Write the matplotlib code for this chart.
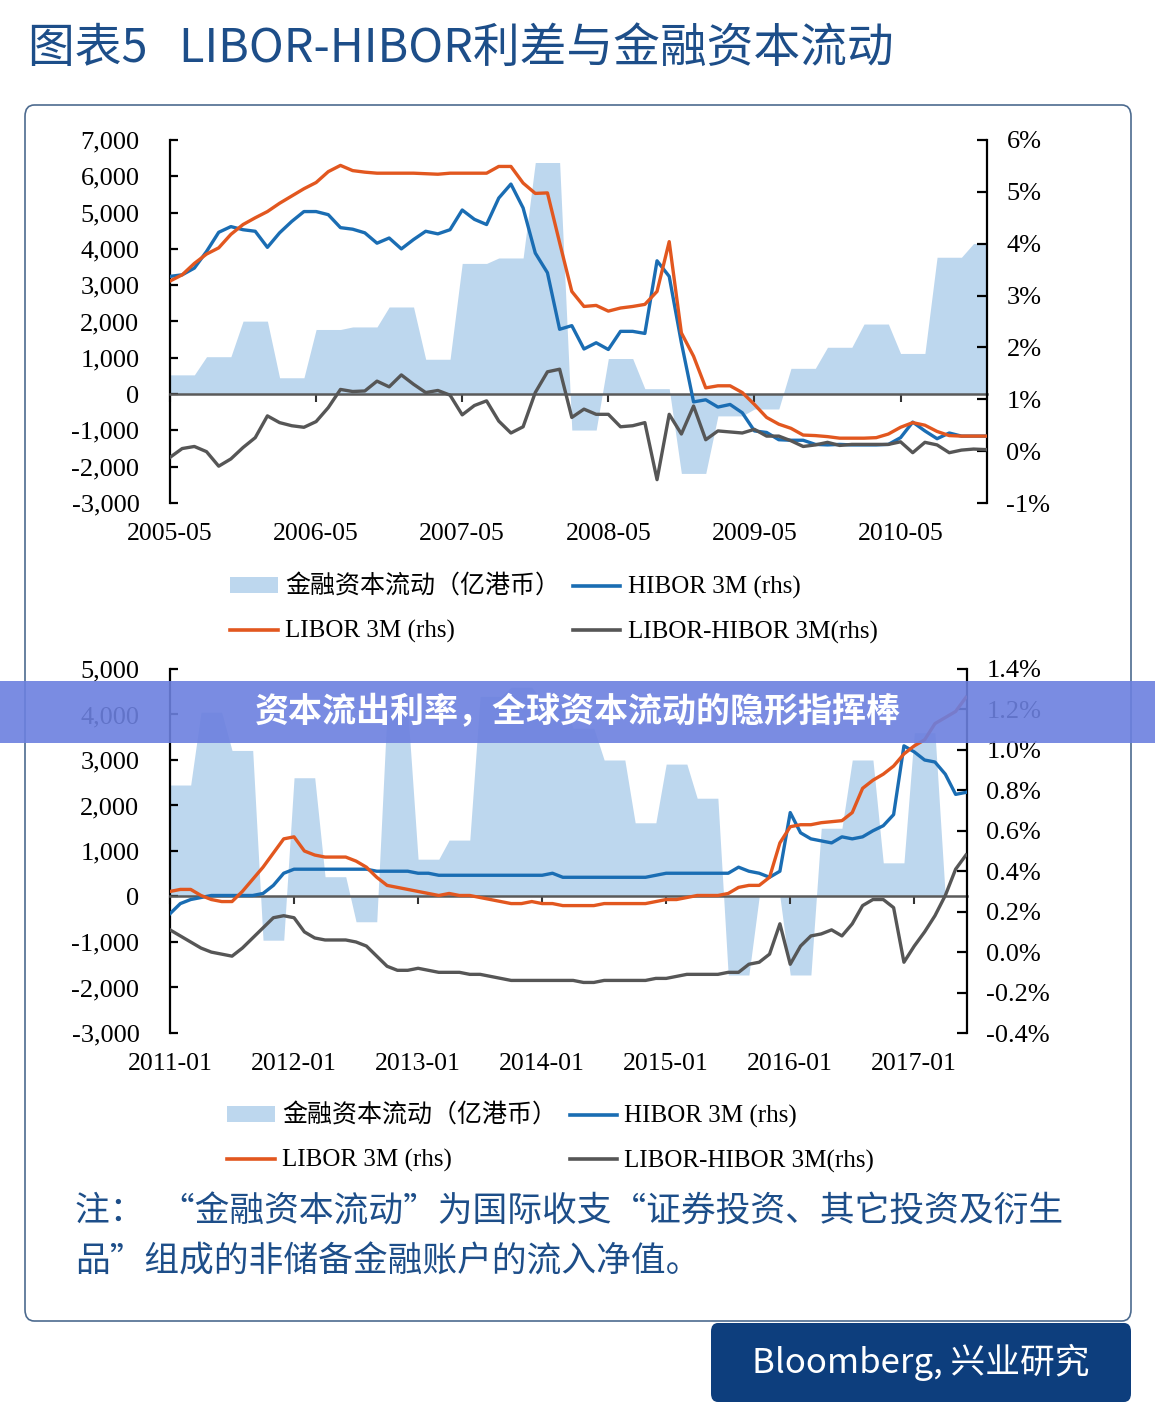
import numpy as np
import matplotlib
matplotlib.use("Agg")
import matplotlib.pyplot as plt
from matplotlib.patches import FancyBboxPatch, Rectangle, Patch
from matplotlib.lines import Line2D
from matplotlib.ticker import FuncFormatter

# ---------------- data ----------------
# top panel: monthly, 2005-05 .. 2010-12
top_years = ["2005-05", "2006-05", "2007-05", "2008-05", "2009-05", "2010-05"]
# financial account flows (HKD 100m), quarterly values, shown monthly
top_flow_q = [530, 1030, 2010, 450, 1780, 1850, 2400, 960, 3600, 3750, 6380, -990,
              980, 150, -2185, -600, -410, 710, 1290, 1930, 1120, 3770, 4150]
top_libor = [3.28, 3.40, 3.62, 3.80, 3.92, 4.18, 4.37, 4.50, 4.62, 4.78, 4.92, 5.06,
             5.18, 5.39, 5.51, 5.41, 5.38, 5.36, 5.36, 5.36, 5.36, 5.35, 5.34, 5.36,
             5.36, 5.36, 5.36, 5.49, 5.49, 5.17, 4.97, 4.98, 4.02, 3.08, 2.79, 2.81,
             2.70, 2.76, 2.79, 2.83, 3.08, 4.04, 2.28, 1.83, 1.22, 1.26, 1.26, 1.13,
             0.90, 0.65, 0.52, 0.44, 0.31, 0.30, 0.28, 0.25, 0.25, 0.25, 0.26, 0.33,
             0.46, 0.55, 0.50, 0.38, 0.30, 0.29, 0.29, 0.29]
top_hibor = [3.37, 3.40, 3.53, 3.85, 4.22, 4.33, 4.27, 4.24, 3.93, 4.21, 4.43, 4.62,
             4.62, 4.56, 4.31, 4.28, 4.21, 4.01, 4.11, 3.90, 4.08, 4.24, 4.19, 4.27,
             4.65, 4.47, 4.37, 4.88, 5.15, 4.69, 3.82, 3.44, 2.35, 2.42, 1.97, 2.09,
             1.96, 2.31, 2.31, 2.27, 3.67, 3.37, 2.09, 0.95, 0.99, 0.85, 0.90, 0.74,
             0.39, 0.36, 0.22, 0.21, 0.21, 0.13, 0.12, 0.13, 0.12, 0.12, 0.12, 0.13,
             0.26, 0.56, 0.39, 0.24, 0.35, 0.29, 0.29, 0.29]
top_spread = [-0.12, 0.05, 0.09, -0.01, -0.29, -0.15, 0.07, 0.26, 0.68, 0.55, 0.49, 0.46,
              0.57, 0.84, 1.19, 1.15, 1.16, 1.35, 1.24, 1.47, 1.29, 1.13, 1.17, 1.08,
              0.70, 0.88, 0.97, 0.58, 0.35, 0.47, 1.13, 1.53, 1.58, 0.65, 0.81, 0.71,
              0.71, 0.47, 0.49, 0.55, -0.55, 0.71, 0.33, 0.87, 0.22, 0.39, 0.37, 0.35,
              0.42, 0.29, 0.29, 0.20, 0.09, 0.12, 0.17, 0.11, 0.13, 0.13, 0.13, 0.13,
              0.18, -0.03, 0.17, 0.12, -0.03, 0.02, 0.04, 0.03]

# bottom panel: monthly, 2011-01 .. 2017-06
bot_years = ["2011-01", "2012-01", "2013-01", "2014-01", "2015-01", "2016-01", "2017-01"]
bot_flow_q = [2450, 4050, 3210, -960, 2610, 435, -555, 4100, 820, 1240, 4400, 4600, 4300,
              3700, 3000, 1620, 2910, 2160, -1725, 0, -1725, 1500, 3000, 740, 3600, 0]
bot_libor = [0.30, 0.31, 0.31, 0.28, 0.26, 0.25, 0.25, 0.30, 0.36, 0.42, 0.49, 0.56,
             0.57, 0.50, 0.48, 0.47, 0.47, 0.47, 0.45, 0.42, 0.37, 0.33, 0.32, 0.31,
             0.30, 0.29, 0.28, 0.29, 0.28, 0.28, 0.27, 0.26, 0.25, 0.24, 0.24, 0.25,
             0.24, 0.24, 0.23, 0.23, 0.23, 0.23, 0.24, 0.24, 0.24, 0.24, 0.24, 0.25,
             0.26, 0.26, 0.27, 0.28, 0.28, 0.28, 0.29, 0.32, 0.33, 0.33, 0.37, 0.54,
             0.62, 0.63, 0.63, 0.64, 0.645, 0.65, 0.69, 0.81, 0.85, 0.88, 0.92, 0.98,
             1.02, 1.05, 1.13, 1.16, 1.19, 1.26]
bot_hibor = [0.19, 0.24, 0.26, 0.27, 0.28, 0.28, 0.28, 0.28, 0.28, 0.29, 0.33, 0.39,
             0.41, 0.41, 0.41, 0.41, 0.41, 0.41, 0.41, 0.41, 0.40, 0.40, 0.40, 0.40,
             0.39, 0.39, 0.38, 0.38, 0.38, 0.38, 0.38, 0.38, 0.38, 0.38, 0.38, 0.38,
             0.38, 0.39, 0.37, 0.37, 0.37, 0.37, 0.37, 0.37, 0.37, 0.37, 0.37, 0.38,
             0.39, 0.39, 0.39, 0.39, 0.39, 0.39, 0.39, 0.42, 0.40, 0.39, 0.37, 0.40,
             0.69, 0.59, 0.56, 0.55, 0.54, 0.57, 0.56, 0.57, 0.60, 0.625, 0.68, 1.02,
             0.99, 0.95, 0.94, 0.88, 0.78, 0.79]
bot_spread = [0.11, 0.08, 0.05, 0.02, 0.00, -0.01, -0.02, 0.02, 0.07, 0.12, 0.17, 0.18,
              0.17, 0.10, 0.07, 0.06, 0.06, 0.06, 0.05, 0.03, -0.02, -0.07, -0.09, -0.09,
              -0.08, -0.09, -0.10, -0.10, -0.10, -0.11, -0.11, -0.12, -0.13, -0.14, -0.14, -0.14,
              -0.14, -0.14, -0.14, -0.14, -0.15, -0.15, -0.14, -0.14, -0.14, -0.14, -0.14, -0.13,
              -0.13, -0.12, -0.11, -0.11, -0.11, -0.11, -0.10, -0.10, -0.06, -0.05, -0.01, 0.14,
              -0.06, 0.03, 0.08, 0.09, 0.11, 0.08, 0.14, 0.23, 0.26, 0.26, 0.22, -0.05,
              0.03, 0.10, 0.18, 0.28, 0.41, 0.48]

legend_labels = ["金融资本流动（亿港币）", "LIBOR 3M (rhs)", "HIBOR 3M (rhs)", "LIBOR-HIBOR 3M(rhs)"]

# ---------------- style ----------------
C_AREA = "#bdd7ee"
C_HIBOR = "#1a6db3"
C_LIBOR = "#e2571f"
C_SPREAD = "#565656"
C_NAVY = "#1d4e89"
SERIF = ["Liberation Serif", "Noto Sans CJK SC"]
CJK = ["Noto Sans CJK SC", "DejaVu Sans"]

W, H = 1155, 1424
fig = plt.figure(figsize=(W / 100, H / 100), dpi=100)


def fx(px):
    return px / W


def fy(py):
    return 1 - py / H


def panel(top, bottom, right, months, flow_q, libor, hibor, spread,
          ylim_l, yticks_l, ylim_r, yticks_r, pct_fmt, years):
    ax = fig.add_axes([fx(170), fy(bottom), fx(right) - fx(170), (bottom - top) / H])
    x = np.arange(months)
    flow = np.repeat(flow_q, 3)[:months]
    ax.fill_between(x, 0, flow, color=C_AREA, lw=0, zorder=1)
    ax.set_xlim(0, months - 1 + 0.1)
    ax.set_ylim(*ylim_l)
    ax.set_yticks(yticks_l)
    ax.yaxis.set_major_formatter(FuncFormatter(lambda v, p: f"{int(v):,}"))
    ax.spines["top"].set_visible(False)
    ax.spines["right"].set_visible(False)
    ax.spines["bottom"].set_position(("data", 0))
    ax.spines["bottom"].set_color("#5a5a5a")
    ax.spines["bottom"].set_linewidth(1.8)
    ax.spines["left"].set_linewidth(1.6)
    ax.set_xticks(np.arange(0, months, 12))
    ax.tick_params(axis="x", direction="out", length=6, width=1.5, color="#333333",
                   labelbottom=False)
    ax.tick_params(axis="y", direction="in", length=6, width=1.6, pad=22)
    for lab in ax.get_yticklabels():
        lab.set_family(SERIF)
        lab.set_fontsize(19)
    for i, s in enumerate(years):
        ax.text(i * 12, -31 / (bottom - top), s, transform=ax.get_xaxis_transform(),
                ha="center", va="center", fontsize=18.5, family=SERIF)

    ax2 = ax.twinx()
    for sp in ["top", "left", "bottom"]:
        ax2.spines[sp].set_visible(False)
    ax2.spines["right"].set_linewidth(1.6)
    ax2.set_ylim(*ylim_r)
    ax2.set_yticks(yticks_r)
    ax2.yaxis.set_major_formatter(FuncFormatter(pct_fmt))
    ax2.tick_params(axis="y", direction="in", length=7, width=1.6, pad=14)
    for lab in ax2.get_yticklabels():
        lab.set_family(SERIF)
        lab.set_fontsize(19)
    ax2.plot(x, hibor, color=C_HIBOR, lw=2.4, zorder=3)
    ax2.plot(x, libor, color=C_LIBOR, lw=2.4, zorder=3)
    ax2.plot(x, spread, color=C_SPREAD, lw=2.4, zorder=3)
    return ax, ax2


panel(140, 503, 987, 68, top_flow_q, top_libor, top_hibor, top_spread,
      (-3000, 7000), np.arange(-3000, 7001, 1000), (-1, 6), np.arange(-1, 7, 1),
      lambda v, p: f"{v:.0f}%", top_years)
panel(669, 1033, 967, 78, bot_flow_q, bot_libor, bot_hibor, bot_spread,
      (-3000, 5000), np.arange(-3000, 5001, 1000), (-0.4, 1.4), np.arange(-0.4, 1.41, 0.2),
      lambda v, p: f"{v:.1f}%", bot_years)

# legends
handles = [Patch(facecolor=C_AREA, edgecolor="none"),
           Line2D([], [], color=C_LIBOR, lw=2.6),
           Line2D([], [], color=C_HIBOR, lw=2.6),
           Line2D([], [], color=C_SPREAD, lw=2.6)]
labels = [legend_labels[0], legend_labels[1], legend_labels[2], legend_labels[3]]
for (lx, ly) in [(230, 575), (227, 1104)]:
    fig.legend(handles, labels, ncol=2, loc="upper left",
               bbox_to_anchor=(fx(lx), fy(ly)), frameon=False,
               prop={"family": SERIF, "size": 18}, handlelength=1.9,
               handleheight=0.6, handletextpad=0.3, columnspacing=0.5,
               labelspacing=0.85, borderpad=0, borderaxespad=0)

# frame and titles
fig.patches.append(FancyBboxPatch((fx(25), fy(1321)), fx(1131) - fx(25), (1321 - 105) / H,
                                  boxstyle="round,pad=0,rounding_size=0.008",
                                  transform=fig.transFigure, fill=False,
                                  ec="#4d6b8f", lw=1.2, zorder=0))
fig.text(fx(28), fy(49), "图表5   LIBOR-HIBOR利差与金融资本流动", fontsize=33.7,
         color=C_NAVY, family=CJK, va="center", ha="left", weight="medium")
fig.text(fx(75), fy(1212), "注：  “金融资本流动”为国际收支“证券投资、其它投资及衍生",
         fontsize=25, color=C_NAVY, family=CJK, va="center", ha="left")
fig.text(fx(75), fy(1262), "品”组成的非储备金融账户的流入净值。",
         fontsize=25, color=C_NAVY, family=CJK, va="center", ha="left")

fig.patches.append(FancyBboxPatch((fx(711), fy(1402)), fx(1131) - fx(711), (1402 - 1323) / H,
                                  boxstyle="round,pad=0,rounding_size=0.006",
                                  transform=fig.transFigure, fc="#0d3e7d", ec="none",
                                  zorder=1))
fig.text(fx(921), fy(1362), "Bloomberg, 兴业研究", fontsize=25, color="white",
         family=CJK, va="center", ha="center", zorder=2)

# overlay banner
fig.patches.append(Rectangle((0, fy(743)), 1, (743 - 681) / H, transform=fig.transFigure,
                             fc="#6c80df", alpha=0.9, ec="none", zorder=10))
fig.text(fx(578), fy(712), "资本流出利率，全球资本流动的隐形指挥棒", fontsize=24.5,
         color="white", weight="bold", family=CJK, va="center", ha="center", zorder=11)

fig.savefig("out.png", dpi=100)
